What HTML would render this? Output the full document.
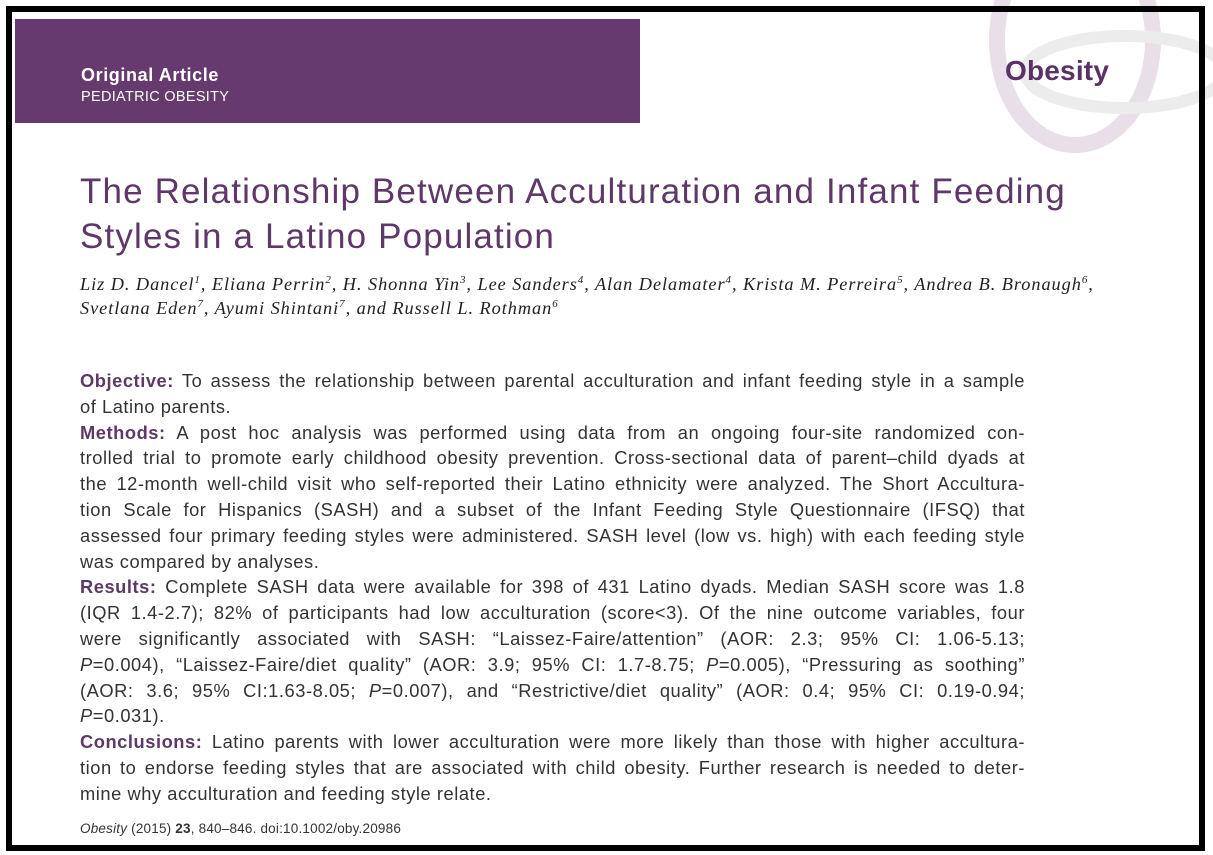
<!DOCTYPE html>
<html><head><meta charset="utf-8"><style>
html,body{margin:0;padding:0;background:#fff;}
body{width:1213px;height:855px;position:relative;overflow:hidden;font-family:"Liberation Sans",sans-serif;}
.frame{position:absolute;left:6px;top:6px;width:1187px;height:833px;border:6px solid #000;}
.band{position:absolute;left:15px;top:19px;width:625px;height:104px;background:#663a6e;}
.band .a{position:absolute;left:66px;top:46px;color:#fff;font-weight:bold;font-size:18px;letter-spacing:0.6px;}
.band .b{position:absolute;left:66px;top:70px;color:#fff;font-size:14.5px;letter-spacing:0.3px;}
.logo{position:absolute;left:1005px;top:55px;color:#5a3266;font-weight:bold;font-size:28px;letter-spacing:0.2px;}
.title{position:absolute;left:80px;top:169px;color:#5e3868;font-size:35px;letter-spacing:1.15px;line-height:45px;white-space:nowrap;}
.auth{position:absolute;left:80px;top:272px;width:1030px;font-family:"Liberation Serif",serif;font-style:italic;font-size:18.3px;letter-spacing:0.95px;line-height:24px;color:#222;white-space:nowrap;}
.auth sup{font-size:11px;line-height:0;vertical-align:0;position:relative;top:-7px;}
.body{position:absolute;left:80px;top:368px;width:945px;font-size:18.3px;letter-spacing:0.55px;line-height:25.8px;color:#333;}
.body div{text-align:justify;text-align-last:justify;white-space:nowrap;}
.body div.l{text-align-last:left;}
.body b{color:#5e3868;}
.cite{position:absolute;left:80px;top:821px;font-size:13.5px;letter-spacing:0.2px;color:#333;}
</style></head><body>
<svg style="position:absolute;left:0;top:0" width="1213" height="855">
<ellipse cx="1075" cy="40" rx="78" ry="105" fill="none" stroke="#e9dfe9" stroke-width="16"/>
<ellipse cx="1125" cy="72" rx="100" ry="36" fill="none" stroke="#ececec" stroke-width="12"/>
</svg>
<div class="frame"></div>
<div class="band"><div class="a">Original Article</div><div class="b">PEDIATRIC OBESITY</div></div>
<div class="logo">Obesity</div>
<div class="title">The Relationship Between Acculturation and Infant Feeding<br>Styles in a Latino Population</div>
<div class="auth">Liz D. Dancel<sup>1</sup>, Eliana Perrin<sup>2</sup>, H. Shonna Yin<sup>3</sup>, Lee Sanders<sup>4</sup>, Alan Delamater<sup>4</sup>, Krista M. Perreira<sup>5</sup>, Andrea B. Bronaugh<sup>6</sup>,<br>Svetlana Eden<sup>7</sup>, Ayumi Shintani<sup>7</sup>, and Russell L. Rothman<sup>6</sup></div>
<div class="body">
<div><b>Objective:</b> To assess the relationship between parental acculturation and infant feeding style in a sample</div>
<div class="l">of Latino parents.</div>
<div><b>Methods:</b> A post hoc analysis was performed using data from an ongoing four-site randomized con-</div>
<div>trolled trial to promote early childhood obesity prevention. Cross-sectional data of parent–child dyads at</div>
<div>the 12-month well-child visit who self-reported their Latino ethnicity were analyzed. The Short Accultura-</div>
<div>tion Scale for Hispanics (SASH) and a subset of the Infant Feeding Style Questionnaire (IFSQ) that</div>
<div>assessed four primary feeding styles were administered. SASH level (low vs. high) with each feeding style</div>
<div class="l">was compared by analyses.</div>
<div><b>Results:</b> Complete SASH data were available for 398 of 431 Latino dyads. Median SASH score was 1.8</div>
<div>(IQR 1.4-2.7); 82% of participants had low acculturation (score&lt;3). Of the nine outcome variables, four</div>
<div>were significantly associated with SASH: “Laissez-Faire/attention” (AOR: 2.3; 95% CI: 1.06-5.13;</div>
<div><i>P</i>=0.004), “Laissez-Faire/diet quality” (AOR: 3.9; 95% CI: 1.7-8.75; <i>P</i>=0.005), “Pressuring as soothing”</div>
<div>(AOR: 3.6; 95% CI:1.63-8.05; <i>P</i>=0.007), and “Restrictive/diet quality” (AOR: 0.4; 95% CI: 0.19-0.94;</div>
<div class="l"><i>P</i>=0.031).</div>
<div><b>Conclusions:</b> Latino parents with lower acculturation were more likely than those with higher accultura-</div>
<div>tion to endorse feeding styles that are associated with child obesity. Further research is needed to deter-</div>
<div class="l">mine why acculturation and feeding style relate.</div>
</div>
<div class="cite"><i>Obesity</i> (2015) <b>23</b>, 840–846. doi:10.1002/oby.20986</div>
</body></html>
